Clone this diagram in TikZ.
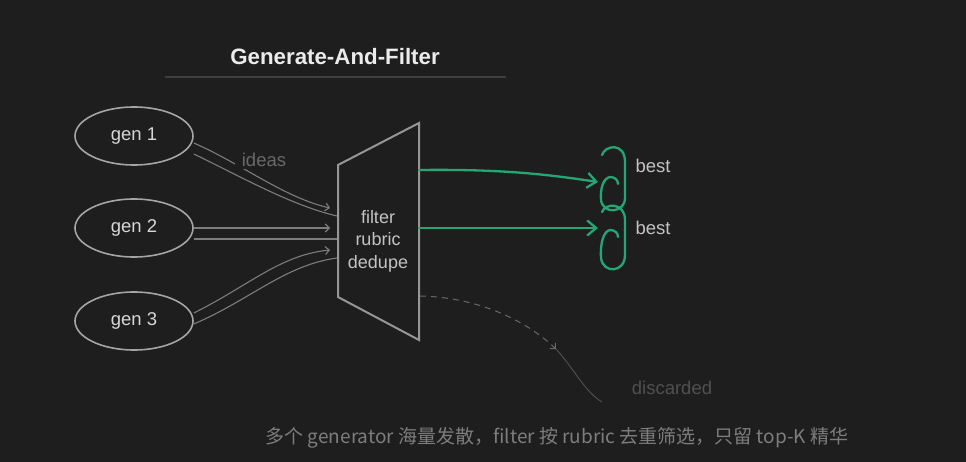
\documentclass[tikz,border=0pt]{standalone}
\usepackage{fontspec}
\setmainfont{Liberation Sans}
\newfontfamily\cjk{Noto Sans CJK SC}
\usetikzlibrary{arrows.meta,calc,shapes.geometric}
\definecolor{bg}{RGB}{30,30,30}
\definecolor{edge}{RGB}{165,165,165}
\definecolor{gentext}{RGB}{215,215,215}
\definecolor{flowc}{RGB}{125,125,125}
\definecolor{trapc}{RGB}{150,150,150}
\definecolor{goodc}{RGB}{38,166,118}
\definecolor{bestc}{RGB}{195,195,195}
\definecolor{faint}{RGB}{105,105,105}
\definecolor{fainter}{RGB}{80,80,80}
\definecolor{capc}{RGB}{125,125,125}
\definecolor{titlec}{RGB}{235,235,235}
\definecolor{rulec}{RGB}{62,62,62}
\begin{document}
\begin{tikzpicture}[x=1pt,y=-1pt,
  gen/.style={ellipse, draw=edge, line width=1.6pt, minimum width=118pt, minimum height=58pt, inner sep=0pt, text=gentext, font=\fontsize{18.5}{20}\selectfont},
  flow/.style={draw=flowc, line width=1.1pt},
  tip/.style={-{Straight Barb[length=4pt,width=8pt]}},
  trap/.style={draw=trapc, line width=2pt, line join=miter},
  good/.style={draw=goodc, line width=2.3pt, line cap=round},
  goodtip/.style={-{Straight Barb[length=9pt,width=15pt]}},
  lbl/.style={font=\fontsize{18.5}{20}\selectfont},
]
\fill[bg] (0,0) rectangle (966,462);
\useasboundingbox (0,0) rectangle (966,462);

% title
\node[text=titlec, font=\fontsize{22.3}{24}\selectfont\bfseries] (title) at (335,57) {Generate-And-Filter};
\draw[rulec, line width=1.2pt] (165,77) -- (506,77);

% generators
\node[gen] (g1) at (134,136) {gen 1};
\node[gen] (g2) at (134,228) {gen 2};
\node[gen] (g3) at (134,321) {gen 3};

% filter trapezoid
\coordinate (tl) at (338,165);
\coordinate (tr) at (419,123);
\coordinate (br) at (419,340);
\coordinate (bl) at (338,297);
\draw[trap] (tl) -- (tr) -- (br) -- (bl) -- cycle;
\node[text=bestc, align=center, lbl, font=\fontsize{18}{22.5}\selectfont] (f) at (378,241) {filter\\rubric\\dedupe};

% flows from generators
\coordinate (a1) at (330,208);
\coordinate (e1) at (337,216);
\coordinate (a2) at (330,228);
\coordinate (e2) at (337,239);
\coordinate (a3) at (330,250);
\coordinate (e3) at (337,258);

\draw[flow, tip] ($(g1.east)+(0,7)$) .. controls (240,163) and (285,198) .. (a1);
\draw[flow] ($(g1.east)+(0,18)$) .. controls (240,176) and (290,205) .. (e1);
\node[text=faint, lbl, fill=bg, inner xsep=7pt, inner ysep=2pt] (ideas) at (264,160) {ideas};

\draw[flow, tip] (g2.east) -- (a2);
\draw[flow] ($(g2.east)+(0,11)$) -- (e2);

\draw[flow, tip] ($(g3.east)+(0,-8)$) .. controls (250,285) and (280,255) .. (a3);
\draw[flow] ($(g3.east)+(0,3)$) .. controls (250,300) and (285,265) .. (e3);

% green selections
\coordinate (o1) at (419,170);
\coordinate (o2) at (419,228);
\coordinate (b1) at (598,182);
\coordinate (b2) at (598,228);
\draw[good, goodtip] (o1) .. controls (500,169) and (545,174) .. (b1);
\draw[good, goodtip] (o2) -- (b2);

\draw[good] (602,155) .. controls (605,145) and (625,142) .. (625,162) -- (625,198)
  .. controls (625,213) and (603,215) .. (601,200) .. controls (600,187) and (604,178) .. (610,177)
  .. controls (615,177) and (618,180) .. (618,184);
\draw[good] (602,212) .. controls (605,203) and (625,202) .. (625,220) -- (625,255)
  .. controls (625,273) and (603,274) .. (601,258) .. controls (600,242) and (604,231) .. (610,230)
  .. controls (615,230) and (618,233) .. (618,237);

\node[text=bestc, lbl] (best1) at (653,166) {best};
\node[text=bestc, lbl] (best2) at (653,228) {best};

% discarded
\coordinate (d0) at (420,296);
\coordinate (d1) at (556,349);
\coordinate (d2) at (602,402);
\draw[faint, line width=1pt, dashed, dash pattern=on 6pt off 5pt, -{Straight Barb[length=4pt,width=8pt]}] (d0) .. controls (470,297) and (520,315) .. (d1);
\draw[fainter, line width=0.9pt] (d1) .. controls (575,370) and (585,392) .. (d2);
\node[text=fainter, lbl] (disc) at (672,388) {discarded};

% caption
\node[text=capc, font=\cjk\fontsize{19}{22}\selectfont] (cap) at (557,438) {多个 generator 海量发散，filter 按 rubric 去重筛选，只留 top-K 精华};
\end{tikzpicture}
\end{document}
